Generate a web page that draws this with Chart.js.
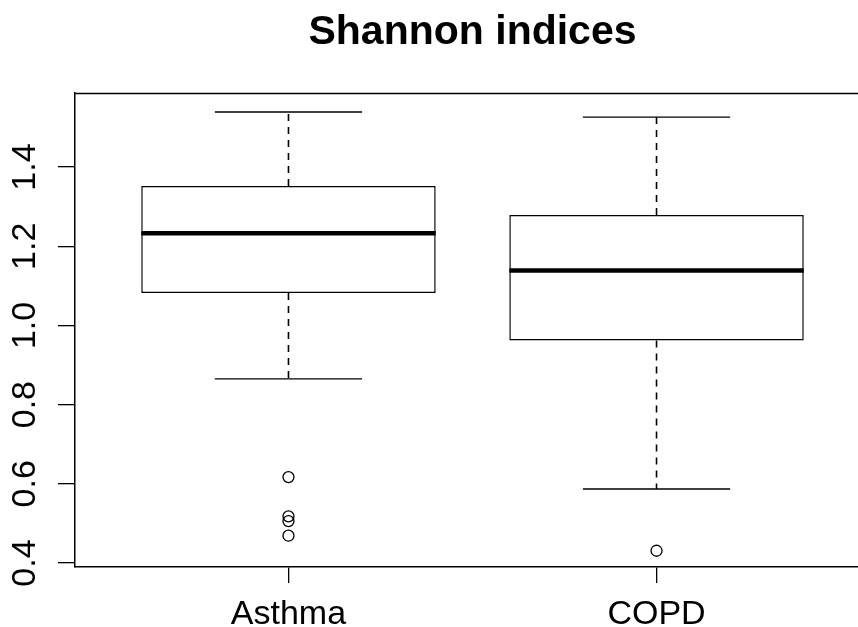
<!DOCTYPE html>
<html>
<head>
<meta charset="utf-8">
<title>Shannon indices</title>
<script src="https://cdn.jsdelivr.net/npm/chart.js@4.4.1/dist/chart.umd.min.js"></script>
<style>
  html, body { margin: 0; padding: 0; background: #fff; overflow: hidden; width: 858px; height: 627px; }
  /* the plot region runs slightly past the right edge of the window */
  #wrap { width: 870px; height: 627px; position: relative; }
</style>
</head>
<body>
<div id="wrap"><canvas id="chart"></canvas></div>
<script>
// Five-number summaries per group (whisker ends, quartiles, median)
const groups      = ['Asthma', 'COPD'];
const whiskerLow  = [0.865, 0.587];
const quartile1   = [1.082, 0.962];
const medians     = [1.233, 1.139];
const quartile3   = [1.352, 1.279];
const whiskerHigh = [1.539, 1.526];
// Points beyond the whiskers
const outliersAsthma = [0.617, 0.518, 0.506, 0.469];
const outliersCOPD   = [0.431];
// Axis ticks and limits
const yTicks   = [0.4, 0.6, 0.8, 1.0, 1.2, 1.4];
const yLimits  = [0.39, 1.587];
const xLimits  = [0.42, 2.58];

const FONT = '"Liberation Sans", Arial, Helvetica, sans-serif';
const BOX_HALF = 0.4;     // half of the box width, in group units
const STAPLE_HALF = 0.2;  // half of the whisker cap width

const pos = groups.map((g, i) => i + 1);
const gap = x => ({ x: x, y: null });

const boxData = pos.map((x, i) => ({ x: x, y: [quartile1[i], quartile3[i]] }));

const medianData = pos.flatMap((x, i) => [
  { x: x - BOX_HALF, y: medians[i] }, { x: x + BOX_HALF, y: medians[i] }, gap(x + BOX_HALF)
]);

const whiskerData = pos.flatMap((x, i) => [
  { x: x, y: quartile3[i] }, { x: x, y: whiskerHigh[i] }, gap(x),
  { x: x, y: quartile1[i] }, { x: x, y: whiskerLow[i] }, gap(x)
]);

const stapleData = pos.flatMap((x, i) => [
  { x: x - STAPLE_HALF, y: whiskerHigh[i] }, { x: x + STAPLE_HALF, y: whiskerHigh[i] }, gap(x + STAPLE_HALF),
  { x: x - STAPLE_HALF, y: whiskerLow[i] },  { x: x + STAPLE_HALF, y: whiskerLow[i] },  gap(x + STAPLE_HALF)
]);

const outlierData = [outliersAsthma, outliersCOPD]
  .flatMap((vals, i) => vals.map(v => ({ x: pos[i], y: v })));

// Top edge of the plot frame (left and bottom come from the axis borders)
const framePlugin = {
  id: 'frameTop',
  afterDraw(chart) {
    const { ctx, chartArea } = chart;
    ctx.save();
    ctx.strokeStyle = '#000';
    ctx.lineWidth = 1.5;
    ctx.beginPath();
    ctx.moveTo(chartArea.left, chartArea.top + 0.5);
    ctx.lineTo(chartArea.right, chartArea.top + 0.5);
    ctx.stroke();
    ctx.restore();
  }
};

const lineCommon = {
  type: 'line',
  borderColor: '#000',
  pointRadius: 0,
  pointHoverRadius: 0,
  spanGaps: false,
  fill: false,
  tension: 0,
  borderCapStyle: 'butt'
};

new Chart(document.getElementById('chart'), {
  type: 'bar',
  data: {
    datasets: [
      {
        type: 'bar',
        data: boxData,
        backgroundColor: '#fff',
        borderColor: '#000',
        borderWidth: 1.5,
        borderSkipped: false,
        categoryPercentage: 1,
        barPercentage: 2 * BOX_HALF,
        order: 4
      },
      Object.assign({}, lineCommon, { data: whiskerData, borderWidth: 1.6, borderDash: [7, 6], order: 3 }),
      Object.assign({}, lineCommon, { data: stapleData, borderWidth: 1.4, order: 2 }),
      Object.assign({}, lineCommon, { data: medianData, borderWidth: 4.5, order: 1 }),
      {
        type: 'scatter',
        data: outlierData,
        pointStyle: 'circle',
        pointRadius: 5.5,
        pointHoverRadius: 5.5,
        pointBorderWidth: 1.3,
        pointBackgroundColor: 'rgba(0,0,0,0)',
        pointBorderColor: '#000',
        showLine: false,
        order: 0
      }
    ]
  },
  options: {
    responsive: true,
    maintainAspectRatio: false,
    animation: false,
    events: [],
    layout: { padding: 0, autoPadding: false },
    plugins: {
      legend: { display: false },
      tooltip: { enabled: false },
      title: {
        display: true,
        fullSize: false,
        text: 'Shannon indices',
        color: '#000',
        font: { family: FONT, size: 41, weight: 'bold', lineHeight: 1.2 },
        padding: { top: 8.4, bottom: 35.4 }
      }
    },
    scales: {
      x: {
        type: 'linear',
        min: xLimits[0],
        max: xLimits[1],
        offset: false,
        afterBuildTicks: s => { s.ticks = pos.map(v => ({ value: v })); },
        afterFit: s => { s.height = 60; s.paddingLeft = 0; s.paddingRight = 0; },
        ticks: {
          color: '#000',
          font: { family: FONT, size: 34 },
          padding: 11,
          maxRotation: 0,
          autoSkip: false,
          callback: v => groups[Math.round(v) - 1]
        },
        grid: {
          display: true,
          offset: false,
          drawOnChartArea: false,
          drawTicks: true,
          tickLength: 16,
          color: '#000',
          tickColor: '#000',
          lineWidth: 1.3,
          tickWidth: 1.3
        },
        border: { display: true, color: '#000', width: 1.5 }
      },
      y: {
        type: 'linear',
        min: yLimits[0],
        max: yLimits[1],
        beginAtZero: false,
        afterBuildTicks: s => { s.ticks = yTicks.map(v => ({ value: v })); },
        afterFit: s => { s.width = 75; s.paddingTop = 0; s.paddingBottom = 0; },
        ticks: {
          color: '#000',
          font: { family: FONT, size: 34 },
          minRotation: 90,
          maxRotation: 90,
          crossAlign: 'center',
          padding: 9,
          autoSkip: false,
          callback: v => v.toFixed(1)
        },
        grid: {
          display: true,
          drawOnChartArea: false,
          drawTicks: true,
          tickLength: 17,
          color: '#000',
          tickColor: '#000',
          lineWidth: 1.3,
          tickWidth: 1.3
        },
        border: { display: true, color: '#000', width: 1.5 }
      }
    }
  },
  plugins: [framePlugin]
});
</script>
</body>
</html>
